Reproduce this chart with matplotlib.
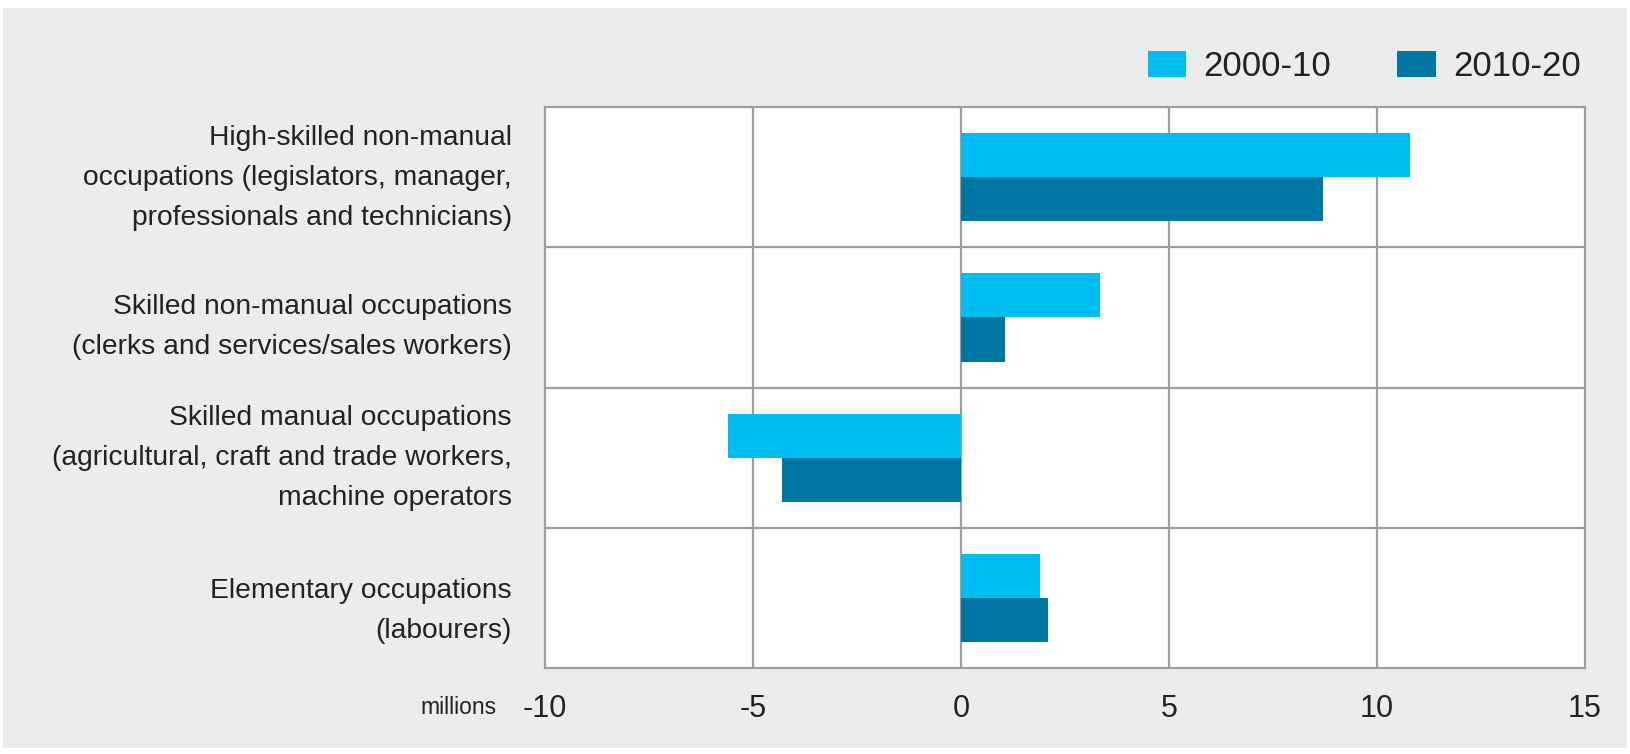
import matplotlib
matplotlib.use("Agg")
import matplotlib.pyplot as plt
from matplotlib.patches import Rectangle
from matplotlib.transforms import ScaledTranslation
import numpy as np

plt.rcParams['font.family'] = ['Liberation Sans Narrow', 'Liberation Sans', 'DejaVu Sans']

categories = [
    "High-skilled non-manual\noccupations (legislators, manager,\nprofessionals and technicians)",
    "Skilled non-manual occupations\n(clerks and services/sales workers)",
    "Skilled manual occupations\n(agricultural, craft and trade workers,\nmachine operators",
    "Elementary occupations\n(labourers)",
]
series_names = ["2000-10", "2010-20"]
values_2000_10 = [10.8, 3.33, -5.6, 1.9]
values_2010_20 = [8.7, 1.05, -4.3, 2.1]
x_ticks = [-10, -5, 0, 5, 10, 15]

light = "#00bdf2"
dark = "#0076a3"
bg = "#ebedec"
grid_col = "#9e9e9e"
text_col = "#222222"

fig = plt.figure(figsize=(16.3, 7.54), dpi=100)
fig.patch.set_facecolor("white")
panel = Rectangle((3 / 1630, 6 / 754), 1624 / 1630, 740 / 754,
                  transform=fig.transFigure, facecolor=bg,
                  edgecolor="none", zorder=-10)
fig.add_artist(panel)

ax = fig.add_axes([0.3344, 0.114, 0.638, 0.744])
ax.set_zorder(5)
ax.set_facecolor("white")

y = np.arange(len(categories))
h = 0.315
ax.barh(y - h / 2, values_2000_10, height=h, color=light, label=series_names[0], zorder=3)
ax.barh(y + h / 2, values_2010_20, height=h, color=dark, label=series_names[1], zorder=3)

ax.set_xlim(-10, 15)
ax.set_ylim(len(categories) - 0.5, -0.5)
ax.set_xticks(x_ticks)
ax.set_xticklabels([str(t) for t in x_ticks], fontsize=22, color=text_col)
ax.set_yticks(y)
ax.set_yticklabels(categories, fontsize=20.3, color=text_col, linespacing=1.7)
ax.tick_params(axis="both", length=0)
ax.tick_params(axis="x", pad=19)
ax.tick_params(axis="y", pad=24)

# nudge the category labels vertically (points, positive = up)
label_shift = [6.8, 0.0, 6.8, -2.2]
for lbl, dy in zip(ax.get_yticklabels(), label_shift):
    lbl.set_transform(lbl.get_transform() + ScaledTranslation(0, dy / 72, fig.dpi_scale_trans))

for xv in x_ticks[1:-1]:
    ax.axvline(xv, color=grid_col, lw=1.6, zorder=1)
for yv in np.arange(0.5, len(categories) - 0.5, 1.0):
    ax.axhline(yv, color=grid_col, lw=1.6, zorder=1)
for s in ax.spines.values():
    s.set_color(grid_col)
    s.set_linewidth(1.6)

fig.text(458 / 1630, 1 - 707 / 754, "millions", fontsize=16.5, color=text_col,
         ha="center", va="center")

fig.legend(loc="upper right", bbox_to_anchor=(0.989, 0.975), ncol=2,
           frameon=False, fontsize=25, handlelength=1.11, handleheight=0.81,
           columnspacing=1.9, handletextpad=0.5, labelcolor=text_col)

fig.savefig("out.png", dpi=100, facecolor=fig.get_facecolor())
